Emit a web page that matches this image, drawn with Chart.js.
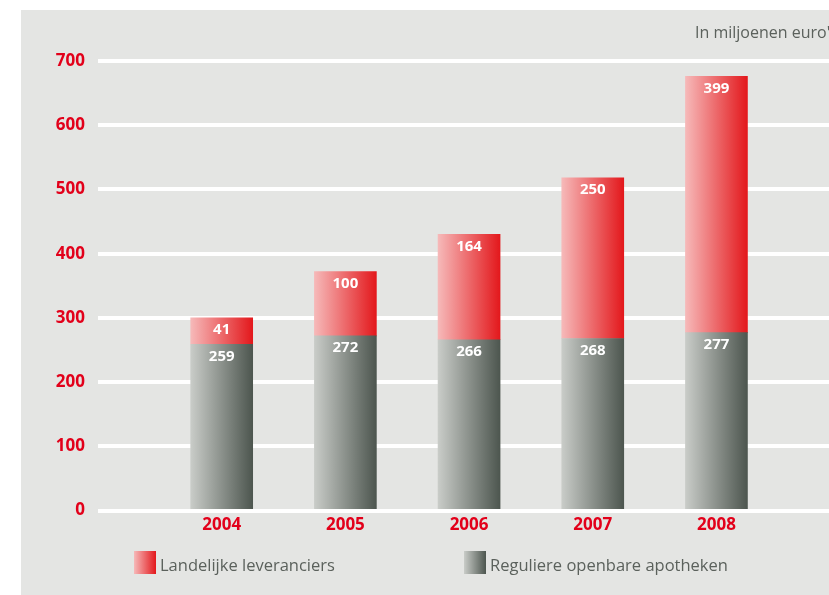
<!DOCTYPE html>
<html>
<head>
<meta charset="utf-8">
<script src="https://cdn.jsdelivr.net/npm/chart.js@4/dist/chart.umd.min.js"></script>
<style>
  body { margin: 0; background: #fff; overflow: hidden; font-family: "Open Sans", sans-serif; }
  #panel { position: absolute; left: 21px; top: 10px; width: 808px; height: 585px; background: #e4e5e3; overflow: hidden; }
  #chart { position: absolute; left: 0; top: 0; }
  #unit { position: absolute; left: 674px; top: 11px; font-size: 16px; color: #5b615c; white-space: nowrap; }
  .item { position: absolute; top: 541px; height: 23px; white-space: nowrap; font-size: 16.5px; color: #5b615c; }
  .item span.box { position: absolute; left: 0; top: 0; width: 22px; height: 23px; }
  .item span.txt { position: absolute; left: 26px; top: 2px; }
</style>
</head>
<body>
<div id="panel">
  <canvas id="chart" width="808" height="585"></canvas>
  <div id="unit">In miljoenen euro's</div>
  <div id="legend"></div>
</div>
<script>
// data
var years = [2004, 2005, 2006, 2007, 2008];
var apotheken = [259, 272, 266, 268, 277];      // Reguliere openbare apotheken
var leveranciers = [41, 100, 164, 250, 399];    // Landelijke leveranciers
var yTicks = [0, 100, 200, 300, 400, 500, 600, 700];
var seriesNames = ['Reguliere openbare apotheken', 'Landelijke leveranciers'];

var red = '#e2001a';
var barW = 62;
var grayStops = ['#c9ccc8', '#4d564f'];
var redStops = ['#f6b9b9', '#e3181c'];

function gradient(stops) {
    return function(c) {
        var chart = c.chart;
        var xs = chart.scales.x;
        if (!xs || c.dataIndex === undefined) return stops[1];
        var xc = xs.getPixelForValue(years[c.dataIndex]);
        if (!isFinite(xc)) return stops[1];
        var g = chart.ctx.createLinearGradient(xc - barW / 2, 0, xc + barW / 2, 0);
        g.addColorStop(0, stops[0]);
        g.addColorStop(1, stops[1]);
        return g;
    };
}

// waardes bovenin elk segment
var valueLabels = {
    id: 'valueLabels',
    afterDatasetsDraw: function(chart) {
        var ctx = chart.ctx;
        ctx.save();
        ctx.fillStyle = '#fff';
        ctx.font = 'bold 15px "Open Sans"';
        ctx.textAlign = 'center';
        ctx.textBaseline = 'middle';
        chart.data.datasets.forEach(function(ds, i) {
            chart.getDatasetMeta(i).data.forEach(function(el, j) {
                ctx.fillText(ds.data[j], el.x, el.y + 12);
            });
        });
        ctx.restore();
    }
};

var chart = new Chart(document.getElementById('chart'), {
    type: 'bar',
    data: {
        labels: years,
        datasets: [{
            label: seriesNames[0],
            data: apotheken,
            backgroundColor: gradient(grayStops),
            barThickness: barW,
            borderWidth: 0
        }, {
            label: seriesNames[1],
            data: leveranciers,
            backgroundColor: gradient(redStops),
            barThickness: barW,
            borderWidth: 0
        }]
    },
    options: {
        responsive: false,
        animation: false,
        layout: { padding: { top: 51, right: 0, bottom: 56, left: 0 } },
        plugins: { legend: { display: false }, tooltip: { enabled: false } },
        scales: {
            x: {
                type: 'linear',
                stacked: true,
                offset: false,
                min: 2003,
                max: 2008.91,
                grid: { display: false, drawTicks: false },
                border: { display: false },
                afterBuildTicks: function(s) { s.ticks = years.map(function(v) { return { value: v }; }); },
                ticks: {
                    padding: 4,
                    color: red,
                    font: { family: 'Open Sans', size: 17, weight: 'bold' },
                    callback: function(v) { return String(v); }
                }
            },
            y: {
                stacked: true,
                min: 0,
                max: 700,
                afterBuildTicks: function(s) { s.ticks = yTicks.map(function(v) { return { value: v }; }); },
                afterFit: function(s) { s.width = 77; },
                grid: { color: '#ffffff', lineWidth: 4, drawTicks: false },
                border: { display: false },
                ticks: {
                    padding: 13,
                    color: red,
                    font: { family: 'Open Sans', size: 17, weight: 'bold' }
                }
            }
        }
    },
    plugins: [valueLabels]
});

// legenda
var legendLeft = [443, 113];
var legendStops = [grayStops, redStops];
var legend = document.getElementById('legend');
[1, 0].forEach(function(i) {
    var d = document.createElement('div');
    d.className = 'item';
    d.style.left = legendLeft[i] + 'px';
    d.innerHTML = '<span class="box" style="background:linear-gradient(to right,' + legendStops[i][0] + ',' + legendStops[i][1] + ')"></span>' +
        '<span class="txt">' + seriesNames[i] + '</span>';
    legend.appendChild(d);
});
</script>
</body>
</html>
